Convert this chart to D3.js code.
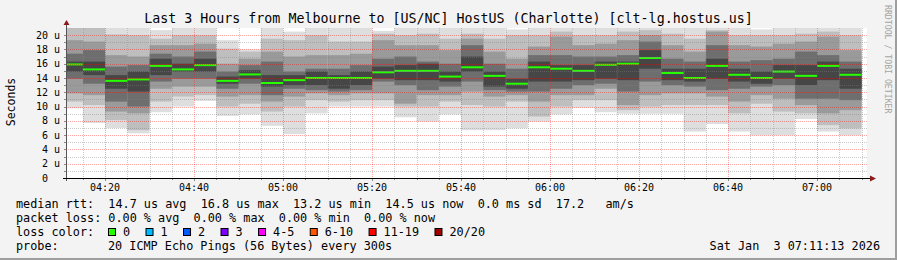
<!DOCTYPE html>
<html>
<head>
<meta charset="utf-8">
<script src="https://cdn.jsdelivr.net/npm/d3@7"></script>
<style>
  body { margin: 0; background: #f3f3f3; }
  svg { display: block; font-family: 'DejaVu Sans Mono', monospace; }
</style>
</head>
<body>
<svg id="chart" width="897" height="260"></svg>
<script>
// data (values in microseconds)

const title = 'Last 3 Hours from Melbourne to [US/NC] HostUS (Charlotte) [clt-lg.hostus.us]';
const windowStart = '04:11:13';
const windowEnd = '07:11:13';

// start of each 5 minute step
const steps = [
  '04:10', '04:15', '04:20', '04:25', '04:30', '04:35', '04:40', '04:45', '04:50', '04:55',
  '05:00', '05:05', '05:10', '05:15', '05:20', '05:25', '05:30', '05:35', '05:40', '05:45',
  '05:50', '05:55', '06:00', '06:05', '06:10', '06:15', '06:20', '06:25', '06:30', '06:35',
  '06:40', '06:45', '06:50', '06:55', '07:00', '07:05'
];

const median = [
  15.9, 15.2, 13.6, 13.8, 15.7, 15.2, 15.8, 13.6, 14.5, 13.3,
  13.7, 14.0, 14.0, 14.0, 14.8, 15.0, 15.0, 14.2, 15.5, 14.3,
  13.2, 15.5, 15.3, 15.0, 15.85, 16.0, 16.8, 14.7, 14.0, 15.7,
  14.45, 14.0, 14.9, 14.3, 15.7, 14.45
];

// smoke: fastest / slowest ping (22 = above the top of the chart)
const pingMin = [
  9.75, 7.7, 7.0, 6.25, 9.2, 10.0, 10.8, 8.7, 8.9, 7.3,
  6.15, 9.05, 10.0, 10.0, 10.0, 8.5, 7.9, 8.9, 6.7, 6.7,
  6.95, 7.9, 8.9, 9.85, 9.2, 9.0, 9.0, 9.0, 6.5, 7.55,
  6.5, 6.0, 6.0, 8.25, 6.5, 6.0
];
const pingMax = [
  22, 22, 22, 22, 20.7, 22, 22, 19.3, 18.0, 22,
  20.5, 22, 22, 22, 20.6, 22, 22, 22, 22, 22,
  20.8, 22, 22, 22, 22, 22, 22, 22, 22, 22,
  22, 20.8, 22, 22, 22, 22
];

// inner smoke bands, from light to dark
const band2Lo = [
  10.7, 10.2, 8.1, 6.7, 10.7, 11.4, 11.6, 10.0, 10.4, 9.3,
  10.0, 10.9, 10.7, 10.9, 10.9, 10.0, 10.0, 10.7, 10.2, 10.0,
  10.7, 8.6, 10.0, 10.9, 10.9, 9.5, 10.0, 10.2, 10.2, 10.2,
  9.05, 10.4, 9.3, 9.05, 7.4, 6.95
];
const band2Hi = [
  21, 21, 20.1, 20.0, 19.5, 20.0, 20.0, 18.1, 17.7, 19.5,
  19.3, 20.0, 19.1, 19.1, 20.2, 20.0, 20.2, 19.5, 20.2, 19.5,
  20.0, 20.0, 20.5, 20.0, 20.0, 20.5, 20.7, 20.2, 19.5, 20.7,
  20.0, 20.0, 20.0, 20.2, 20.5, 20.0
];
const band3Lo = [
  11.85, 11.6, 9.3, 9.05, 12.5, 12.8, 12.8, 11.4, 11.6, 10.7,
  11.4, 11.85, 11.6, 11.85, 11.85, 10.4, 11.6, 11.6, 12.1, 11.4,
  11.6, 10.7, 11.6, 11.6, 12.5, 10.2, 11.6, 11.85, 11.85, 11.4,
  10.7, 11.6, 11.1, 10.2, 9.05, 9.5
];
const band3Hi = [
  19.3, 19.1, 17.2, 17.0, 18.6, 18.6, 18.8, 16.0, 16.7, 17.7,
  17.0, 17.2, 17.2, 17.4, 19.3, 18.6, 18.6, 17.9, 19.5, 17.7,
  16.7, 18.4, 19.8, 18.6, 18.8, 19.3, 20.0, 18.6, 17.7, 20.5,
  18.6, 18.4, 18.8, 19.1, 19.8, 17.9
];
const band4Lo = [
  13.9, 13.2, 10.7, 10.0, 13.5, 13.9, 13.9, 12.5, 13.2, 11.6,
  12.5, 12.3, 12.1, 12.3, 13.5, 13.0, 12.3, 12.8, 13.5, 12.3,
  12.1, 12.1, 12.5, 13.0, 13.2, 12.1, 13.5, 13.0, 12.8, 12.3,
  12.5, 12.8, 13.0, 11.1, 11.1, 10.9
];
const band4Hi = [
  17.4, 17.9, 15.6, 15.8, 17.4, 17.0, 17.7, 14.9, 15.8, 16.3,
  14.9, 15.3, 15.3, 15.8, 16.7, 17.0, 16.3, 16.0, 18.6, 16.0,
  15.3, 17.2, 17.2, 17.0, 17.0, 17.2, 19.1, 16.7, 16.3, 18.6,
  16.3, 16.5, 16.7, 17.7, 17.2, 16.3
];
const band5Lo = [
  14.9, 14.4, 12.5, 12.1, 14.4, 14.9, 14.9, 13.2, 13.9, 12.8,
  13.0, 13.0, 12.5, 13.0, 13.9, 13.7, 13.7, 13.5, 14.9, 12.8,
  12.5, 13.5, 13.5, 13.7, 13.9, 13.7, 15.3, 13.7, 13.5, 13.9,
  13.5, 13.2, 13.9, 13.0, 13.7, 12.5
];
const band5Hi = [
  16.3, 16.3, 14.4, 14.9, 16.7, 16.0, 16.7, 14.2, 15.1, 14.4,
  14.4, 14.9, 14.4, 14.9, 15.6, 15.8, 16.0, 14.9, 17.0, 14.9,
  13.9, 16.3, 15.8, 15.8, 16.3, 16.3, 17.9, 15.3, 15.3, 16.7,
  15.3, 14.9, 15.8, 15.8, 16.3, 15.3
];

const yTicks = [0, 2, 4, 6, 8, 10, 12, 14, 16, 18, 20];

// legend
const rttStats = ['14.7', '16.8', '13.2', '14.5'];
const rttSd = '0.0';
const rttAms = '17.2';
const lossStats = ['0.00', '0.00', '0.00', '0.00'];
const lossLabels = ['0', '1', '2', '3', '4-5', '6-10', '11-19', '20/20'];
const lossColors = ['#26ff00', '#00b8ff', '#0059ff', '#7e00ff', '#ff00ff', '#ff5500', '#ff0000', '#a10000'];
const probeText = '20 ICMP Echo Pings (56 Bytes) every 300s';
const stamp = 'Sat Jan  3 07:11:13 2026';

// layout

const svg = d3.select('#chart');
const W = 897, H = 260;
const plot = { left: 66, right: 867, top: 28, bottom: 178 };
const legendFont = '11.8px';

// keep runs of spaces (rrdtool legends are column aligned)
const pre = s => s.replace(/ /g, '\u00a0');

const parseHM = d3.timeParse('%H:%M');
const parseHMS = d3.timeParse('%H:%M:%S');

const x = d3.scaleTime()
    .domain([parseHMS(windowStart), parseHMS(windowEnd)])
    .range([plot.left, plot.right]);

const y = d3.scaleLinear()
    .domain([0, 21])
    .range([plot.bottom, plot.top]);

const cols = steps.map((s, i) => {
  const t0 = parseHM(s);
  return {
    t0: t0,
    t1: d3.timeMinute.offset(t0, 5),
    median: median[i],
    bands: [
      [pingMin[i], pingMax[i]],
      [band2Lo[i], band2Hi[i]],
      [band3Lo[i], band3Hi[i]],
      [band4Lo[i], band4Hi[i]],
      [band5Lo[i], band5Hi[i]]
    ]
  };
});

const bandColors = ['#dedede', '#bebebe', '#9a9a9a', '#6e6e6e', '#464646'];

// frame

svg.append('rect')
    .attr('width', W)
    .attr('height', H)
    .attr('fill', '#f3f3f3');

svg.append('rect')
    .attr('x', W - 2)
    .attr('width', 2)
    .attr('height', H)
    .attr('fill', '#9e9e9e');

svg.append('rect')
    .attr('y', H - 2)
    .attr('width', W)
    .attr('height', 2)
    .attr('fill', '#9e9e9e');

svg.append('rect')
    .attr('x', plot.left)
    .attr('y', plot.top)
    .attr('width', plot.right - plot.left)
    .attr('height', plot.bottom - plot.top)
    .attr('fill', 'white');

svg.append('clipPath')
    .attr('id', 'plot-clip')
  .append('rect')
    .attr('x', plot.left)
    .attr('y', plot.top)
    .attr('width', plot.right - plot.left)
    .attr('height', plot.bottom - plot.top);

// smoke

const smoke = svg.append('g')
    .attr('clip-path', 'url(#plot-clip)');

bandColors.forEach((color, b) => {
  smoke.append('g')
      .attr('fill', color)
    .selectAll('rect')
    .data(cols)
    .join('rect')
      .attr('x', d => x(d.t0))
      .attr('y', d => y(d.bands[b][1]))
      .attr('width', d => x(d.t1) - x(d.t0))
      .attr('height', d => y(d.bands[b][0]) - y(d.bands[b][1]));
});

// median, coloured by loss (all 0 here)

smoke.append('g')
    .attr('fill', lossColors[0])
  .selectAll('rect')
  .data(cols)
  .join('rect')
    .attr('x', d => x(d.t0))
    .attr('y', d => y(d.median) - 1)
    .attr('width', d => x(d.t1) - x(d.t0))
    .attr('height', 2);

// grid, drawn over the smoke (semi transparent like rrdtool)

const minorX = x.ticks(d3.timeMinute.every(5));
const majorX = x.ticks(d3.timeMinute.every(20));
const minorY = d3.range(1, 21, 2);
const majorY = yTicks.filter(v => v > 0);

const grid = svg.append('g')
    .attr('stroke-width', 1)
    .attr('stroke-dasharray', '1,1')
    .attr('shape-rendering', 'crispEdges');

grid.append('g')
    .attr('stroke', '#808080')
    .attr('stroke-opacity', 0.42)
    .call(g => g.selectAll('.vx')
      .data(minorX.filter(t => !majorX.some(m => +m === +t)))
      .join('line')
        .attr('x1', d => Math.round(x(d)) + 0.5)
        .attr('x2', d => Math.round(x(d)) + 0.5)
        .attr('y1', plot.top)
        .attr('y2', plot.bottom))
    .call(g => g.selectAll('.hy')
      .data(minorY)
      .join('line')
        .attr('x1', plot.left)
        .attr('x2', plot.right)
        .attr('y1', d => Math.round(y(d)) + 0.5)
        .attr('y2', d => Math.round(y(d)) + 0.5));

grid.append('g')
    .attr('stroke', '#ff0000')
    .attr('stroke-opacity', 0.36)
    .call(g => g.selectAll('.vx')
      .data(majorX)
      .join('line')
        .attr('x1', d => Math.round(x(d)) + 0.5)
        .attr('x2', d => Math.round(x(d)) + 0.5)
        .attr('y1', plot.top)
        .attr('y2', plot.bottom))
    .call(g => g.selectAll('.hy')
      .data(majorY)
      .join('line')
        .attr('x1', plot.left)
        .attr('x2', plot.right)
        .attr('y1', d => Math.round(y(d)) + 0.5)
        .attr('y2', d => Math.round(y(d)) + 0.5));

// axes: small ticks, axis lines and arrows

const ticks = svg.append('g')
    .attr('stroke', '#8a8a8a')
    .attr('shape-rendering', 'crispEdges');

ticks.selectAll('.ty')
  .data(d3.range(1, 21))
  .join('line')
    .attr('x1', plot.left - 2)
    .attr('x2', plot.left)
    .attr('y1', d => Math.round(y(d)) + 0.5)
    .attr('y2', d => Math.round(y(d)) + 0.5);

ticks.selectAll('.tx')
  .data(minorX)
  .join('line')
    .attr('x1', d => Math.round(x(d)) + 0.5)
    .attr('x2', d => Math.round(x(d)) + 0.5)
    .attr('y1', plot.bottom)
    .attr('y2', d => plot.bottom + (majorX.some(m => +m === +d) ? 3 : 2));

svg.append('line')
    .attr('x1', plot.left + 0.5)
    .attr('x2', plot.left + 0.5)
    .attr('y1', plot.bottom + 3)
    .attr('y2', plot.top - 4)
    .attr('stroke', '#555')
    .attr('shape-rendering', 'crispEdges');

svg.append('line')
    .attr('x1', plot.left - 3)
    .attr('x2', plot.right + 4)
    .attr('y1', plot.bottom + 0.5)
    .attr('y2', plot.bottom + 0.5)
    .attr('stroke', '#000')
    .attr('shape-rendering', 'crispEdges');

svg.append('path')
    .attr('d', `M${plot.left + 0.5},${plot.top - 8} l-3,5 h6 z`)
    .attr('fill', '#8b1a1a');

svg.append('path')
    .attr('d', `M${plot.right + 9},${plot.bottom + 0.5} l-6,-3 v6 z`)
    .attr('fill', '#8b1a1a');

// tick labels

svg.append('g')
    .attr('font-size', '10px')
    .attr('text-anchor', 'end')
    .attr('fill', '#000')
  .selectAll('text')
  .data(yTicks)
  .join('text')
    .attr('x', 60)
    .attr('y', d => y(d))
    .attr('dy', '0.35em')
    .text(d => pre(d === 0 ? '0  ' : `${d} u`));

svg.append('g')
    .attr('font-size', '10px')
    .attr('text-anchor', 'middle')
    .attr('fill', '#000')
  .selectAll('text')
  .data(majorX)
  .join('text')
    .attr('x', d => x(d))
    .attr('y', 191)
    .text(d3.timeFormat('%H:%M'));

// titles

svg.append('text')
    .attr('x', W / 2)
    .attr('y', 23)
    .attr('text-anchor', 'middle')
    .attr('font-size', '13.3px')
    .text(title);

svg.append('text')
    .attr('transform', 'translate(15, 102) rotate(-90)')
    .attr('text-anchor', 'middle')
    .attr('font-size', '11.5px')
    .text('Seconds');

svg.append('text')
    .attr('transform', 'translate(885, 5) rotate(90)')
    .attr('font-size', '8.2px')
    .attr('fill', '#a4a4a4')
    .text('RRDTOOL / TOBI OETIKER');

// legend

const legend = svg.append('g')
    .attr('font-size', legendFont);

legend.append('text')
    .attr('x', 16)
    .attr('y', 208)
    .text(pre(`median rtt:  ${rttStats[0]} us avg  ${rttStats[1]} us max  ${rttStats[2]} us min  ${rttStats[3]} us now  ${rttSd} ms sd  ${rttAms}   am/s`));

legend.append('text')
    .attr('x', 16)
    .attr('y', 222)
    .text(pre(`packet loss: ${lossStats[0]} % avg  ${lossStats[1]} % max  ${lossStats[2]} % min  ${lossStats[3]} % now`));

legend.append('text')
    .attr('x', 16)
    .attr('y', 236)
    .text('loss color:');

let bx = 108;
lossLabels.forEach((label, i) => {
  legend.append('rect')
      .attr('x', bx + 0.5)
      .attr('y', 228.5)
      .attr('width', 7)
      .attr('height', 7)
      .attr('fill', lossColors[i])
      .attr('stroke', '#000');
  const t = legend.append('text')
      .attr('x', bx + 15)
      .attr('y', 236)
      .text(label);
  bx = bx + 15 + t.node().getComputedTextLength() + 15.4;
});

legend.append('text')
    .attr('x', 16)
    .attr('y', 250)
    .text('probe:');

legend.append('text')
    .attr('x', 108)
    .attr('y', 250)
    .text(probeText);

legend.append('text')
    .attr('x', 880)
    .attr('y', 250)
    .attr('text-anchor', 'end')
    .text(pre(stamp));
</script>
</body>
</html>
